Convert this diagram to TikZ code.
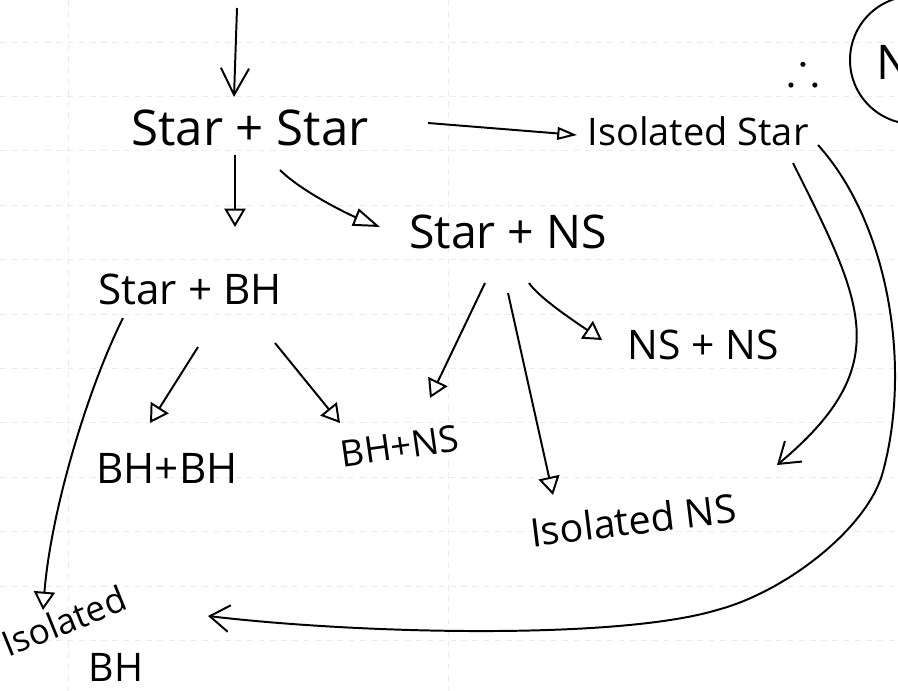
\documentclass[tikz,border=0pt]{standalone}
\usepackage{amssymb}
\usepackage{fontspec}
\setmainfont{Open Sans}
\usetikzlibrary{arrows.meta,calc,positioning}

\tikzstyle{word} = [font=\fontsize{30}{36}\selectfont, inner sep=2pt]
\tikzstyle{tarrow} = [line width=1.4pt, -{Triangle[open, length=13pt, width=15pt]}]
\tikzstyle{varrow} = [line width=1.4pt, -{Straight Barb[length=14pt, width=19pt]}]
\tikzstyle{paper} = [black!8, line width=0.6pt, dash pattern=on 4pt off 4pt]
\tikzstyle{bubble} = [circle, draw, line width=1.4pt, minimum size=3.2cm]

\begin{document}
\begin{tikzpicture}[x=0.025cm, y=-0.025cm]
  \useasboundingbox (0,0) rectangle (898,690);
  %paper
  \foreach \y in {42,96.4,...,650} \draw [paper] (0,\y) -- (898,\y);
  \draw [paper] (68,0) -- (68,690);
  \draw [paper] (448,0) -- (448,690);
  %blocks
  \node (ss) [word, font=\fontsize{35}{40}\selectfont] at (250,128) {Star + Star};
  \node (is) [word, font=\fontsize{27}{32}\selectfont] at (698,131) {Isolated Star};
  \node (sn) [word, font=\fontsize{33}{38}\selectfont] at (508,232) {Star + NS};
  \node (sb) [word] at (190,289) {Star + BH};
  \node (bb) [word] at (167,468) {BH+BH};
  \node (bn) [word, font=\fontsize{26}{30}\selectfont, rotate=8] at (400,446) {BH+NS};
  \node (nn) [word, font=\fontsize{29}{34}\selectfont] at (703,345) {NS + NS};
  \node (ins) [word, font=\fontsize{28}{32}\selectfont, rotate=7] at (633,520) {Isolated NS};
  \node (ib) [word, font=\fontsize{25}{30}\selectfont, rotate=22, inner sep=0pt] at (64,621) {Isolated};
  \node (ibh) [word, font=\fontsize{28}{32}\selectfont, inner sep=0pt] at (116,667) {BH};
  \node (note) [bubble] at (914,60) {};
  \node (n) [word, font=\fontsize{34}{40}\selectfont, anchor=west, inner sep=0pt] at (876,62) {N};
  \node (so) [word, font=\fontsize{34}{40}\selectfont] at (803,68) {$\therefore$};
  \coordinate (top) at (237,8);
  %connections
  % top -> ss
  \draw [varrow, -{Straight Barb[length=19pt, width=20pt]}] (top) -- ($(ss)+(-16,-31)$);
  % ss -> is
  \draw [tarrow, -{Triangle[open, length=14pt, width=9pt]}] ($(ss)+(178,-5)$) -- ($(is)+(-121,4)$);
  % ss -> sb
  \draw [tarrow] ($(ss)+(-15,27)$) -- ($(sb)+(45,-62)$);
  % ss -> sn
  \draw [tarrow, -{Triangle[open, length=19pt, width=13pt]}] ($(ss)+(30,42)$)
    .. controls +(22,22) and +(-30,-12) .. ($(sn)+(-128,-5)$);
  % sb -> bb
  \draw [tarrow] ($(sb)+(8,58)$) -- ($(bb)+(-17,-45)$);
  % sb -> bn
  \draw [tarrow] ($(sb)+(85,54)$) -- ($(bn)+(-60,-23)$);
  % sb -> ib
  \draw [tarrow] ($(sb)+(-67,29)$) .. controls +(-35,70) and +(8,-100) .. ($(ib)+(-21,-11)$);
  % sn -> bn
  \draw [tarrow] ($(sn)+(-23,51)$) -- ($(bn)+(30,-48)$);
  % sn -> ins
  \draw [tarrow] ($(sn)+(0,61)$) -- ($(ins)+(-80,-25)$);
  % sn -> nn
  \draw [tarrow] ($(sn)+(21,51)$) .. controls +(10,15) and +(-25,-17) .. ($(nn)+(-101,-5)$);
  % is -> ins
  \draw [varrow] ($(is)+(95,32)$) .. controls +(70,140) and +(120,-100) .. ($(ins)+(144,-55)$);
  % is -> ib
  \draw [varrow] ($(is)+(120,14)$) .. controls (890,225) and (912,370) .. (882,475)
    .. controls (865,530) and (785,592) .. (717,610)
    .. controls (617,640) and (360,634) .. ($(ib)+(144,-5)$);
\end{tikzpicture}
\end{document}
